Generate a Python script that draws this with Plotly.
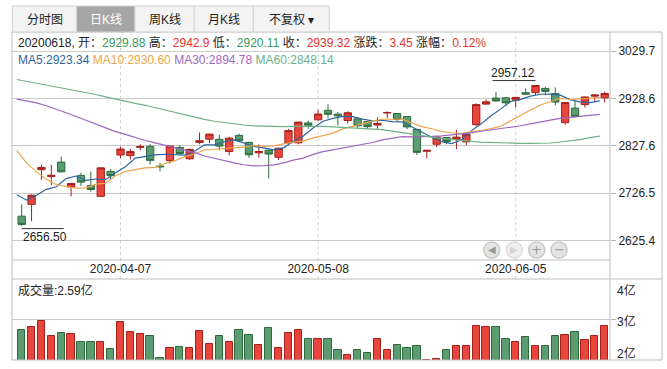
import plotly.graph_objects as go

# ---------------- data ----------------
dates = ["2020-03-23", "2020-03-24", "2020-03-25", "2020-03-26", "2020-03-27", "2020-03-30", "2020-03-31",
         "2020-04-01", "2020-04-02", "2020-04-03", "2020-04-07", "2020-04-08", "2020-04-09", "2020-04-10",
         "2020-04-13", "2020-04-14", "2020-04-15", "2020-04-16", "2020-04-17", "2020-04-20", "2020-04-21",
         "2020-04-22", "2020-04-23", "2020-04-24", "2020-04-27", "2020-04-28", "2020-04-29", "2020-04-30",
         "2020-05-06", "2020-05-07", "2020-05-08", "2020-05-11", "2020-05-12", "2020-05-13", "2020-05-14",
         "2020-05-15", "2020-05-18", "2020-05-19", "2020-05-20", "2020-05-21", "2020-05-22", "2020-05-25",
         "2020-05-26", "2020-05-27", "2020-05-28", "2020-05-29", "2020-06-01", "2020-06-02", "2020-06-03",
         "2020-06-04", "2020-06-05", "2020-06-08", "2020-06-09", "2020-06-10", "2020-06-11", "2020-06-12",
         "2020-06-15", "2020-06-16", "2020-06-17", "2020-06-18"]

opens = [2677.7, 2703.0, 2776.7, 2762.0, 2792.9, 2740.0, 2764.6, 2743.0, 2720.0, 2773.2,
         2808.0, 2806.9, 2824.4, 2826.4, 2784.5, 2796.0, 2824.0, 2800.0, 2834.9, 2841.9,
         2841.5, 2815.4, 2849.8, 2835.0, 2812.7, 2818.5, 2803.2, 2833.9, 2834.0, 2876.4,
         2883.2, 2903.3, 2895.2, 2881.6, 2885.2, 2879.1, 2872.0, 2897.5, 2896.5, 2890.1,
         2862.5, 2816.0, 2831.0, 2845.3, 2841.3, 2836.0, 2872.8, 2916.5, 2929.5, 2930.0,
         2925.0, 2940.8, 2941.0, 2950.0, 2938.9, 2877.1, 2908.0, 2915.5, 2933.5, 2929.88]

highs = [2703.0, 2724.0, 2787.5, 2787.0, 2805.0, 2748.5, 2770.0, 2773.0, 2781.5, 2778.0,
         2825.7, 2821.0, 2831.0, 2831.0, 2791.0, 2828.5, 2829.0, 2821.5, 2856.0, 2854.0,
         2851.0, 2847.0, 2853.5, 2836.5, 2831.0, 2819.5, 2823.5, 2863.5, 2879.0, 2881.5,
         2904.5, 2916.0, 2899.5, 2901.0, 2886.0, 2880.0, 2888.5, 2901.0, 2897.0, 2891.0,
         2864.0, 2819.0, 2847.5, 2846.5, 2861.5, 2853.5, 2918.0, 2926.5, 2942.5, 2931.5,
         2931.5, 2950.0, 2957.12, 2953.0, 2952.0, 2921.0, 2923.0, 2932.5, 2937.5, 2942.9]

lows = [2656.50, 2667.0, 2755.0, 2744.0, 2771.0, 2720.0, 2742.0, 2730.0, 2718.5, 2755.0,
        2801.5, 2798.5, 2818.0, 2788.0, 2773.0, 2790.0, 2808.5, 2797.0, 2831.0, 2833.0,
        2818.0, 2807.5, 2837.5, 2802.0, 2802.5, 2758.0, 2797.0, 2831.0, 2831.0, 2864.0,
        2880.5, 2886.0, 2871.0, 2875.0, 2866.0, 2863.5, 2864.0, 2886.5, 2879.0, 2863.5,
        2808.0, 2801.0, 2825.0, 2831.0, 2820.5, 2829.0, 2869.5, 2915.0, 2921.0, 2914.0,
        2909.0, 2935.5, 2936.0, 2935.5, 2914.0, 2872.5, 2889.0, 2909.0, 2921.0, 2920.11]

closes = [2660.17, 2722.44, 2781.59, 2764.91, 2772.20, 2747.21, 2750.30, 2734.52, 2780.64, 2763.99,
          2820.76, 2815.37, 2825.90, 2796.63, 2783.05, 2827.28, 2811.17, 2819.94, 2838.49, 2852.55,
          2827.01, 2843.98, 2838.50, 2808.53, 2815.49, 2810.02, 2822.44, 2860.08, 2878.14, 2871.52,
          2895.34, 2894.80, 2891.56, 2898.05, 2870.34, 2868.46, 2875.42, 2898.58, 2883.74, 2867.92,
          2813.77, 2817.97, 2846.55, 2836.80, 2846.22, 2852.35, 2915.43, 2921.40, 2923.37, 2919.25,
          2930.80, 2937.77, 2956.11, 2943.75, 2920.90, 2919.74, 2890.03, 2931.75, 2935.87, 2939.32]

# volume, in 亿 (hundred-million lots)
volumes = [2.49, 2.56, 2.71, 2.34, 2.41, 2.39, 2.19, 2.19, 2.19, 2.02,
           2.69, 2.44, 2.39, 2.34, 1.80, 2.05, 2.07, 2.05, 2.47, 2.15,
           2.34, 2.19, 2.49, 2.37, 2.12, 2.54, 2.05, 2.42, 2.49, 2.27,
           2.27, 2.27, 2.00, 1.87, 2.00, 1.92, 2.27, 2.00, 2.12, 2.05,
           2.10, 1.76, 1.78, 2.00, 2.10, 2.10, 2.59, 2.56, 2.56, 2.27,
           2.19, 2.32, 2.10, 2.10, 2.34, 2.37, 2.44, 2.24, 2.34, 2.59]

ma5 = [2723.26, 2711.82, 2722.39, 2734.95, 2740.26, 2757.67, 2763.24, 2753.83, 2756.97, 2755.33,
       2770.04, 2783.06, 2801.33, 2804.53, 2808.34, 2809.65, 2808.81, 2807.61, 2815.99, 2829.89,
       2829.83, 2836.39, 2840.11, 2834.11, 2826.70, 2823.30, 2819.00, 2823.31, 2837.23, 2848.44,
       2865.50, 2879.98, 2886.27, 2890.25, 2890.02, 2884.64, 2880.77, 2882.17, 2879.31, 2878.82,
       2867.89, 2856.40, 2845.99, 2836.60, 2832.26, 2839.98, 2859.47, 2874.44, 2891.75, 2906.36,
       2922.05, 2926.52, 2933.46, 2937.54, 2937.87, 2935.65, 2926.11, 2921.23, 2919.66, 2923.34]

ma10 = [2818.18, 2790.75, 2772.05, 2756.19, 2744.67, 2740.47, 2737.53, 2738.11, 2745.96, 2747.80,
        2763.86, 2773.15, 2777.58, 2780.75, 2781.84, 2789.84, 2795.93, 2804.47, 2810.26, 2819.11,
        2819.74, 2822.60, 2823.86, 2825.05, 2828.29, 2826.57, 2827.70, 2831.71, 2835.67, 2837.57,
        2844.40, 2849.49, 2854.79, 2863.74, 2869.23, 2875.07, 2880.37, 2884.22, 2884.78, 2884.42,
        2876.26, 2868.58, 2864.08, 2857.96, 2855.54, 2853.93, 2857.93, 2860.22, 2864.18, 2869.31,
        2881.01, 2892.99, 2903.95, 2914.65, 2922.11, 2928.85, 2926.31, 2927.35, 2928.60, 2930.60]

ma30 = [2927.0, 2923.5, 2919.0, 2913.0, 2906.0, 2898.0, 2890.0, 2882.0, 2874.0, 2866.0,
        2858.0, 2852.0, 2845.0, 2839.0, 2834.0, 2829.0, 2824.0, 2819.0, 2813.0, 2806.0,
        2800.59, 2795.50, 2791.16, 2787.33, 2784.93, 2785.63, 2787.05, 2791.43, 2797.30, 2801.49,
        2809.33, 2815.08, 2818.74, 2823.18, 2826.45, 2830.50, 2834.67, 2840.13, 2843.57, 2847.04,
        2846.80, 2846.89, 2847.58, 2848.92, 2851.02, 2851.86, 2855.33, 2858.72, 2861.54, 2863.77,
        2867.23, 2870.35, 2874.27, 2878.78, 2882.30, 2885.95, 2888.21, 2890.59, 2892.52, 2894.78]

ma60 = [2969.0, 2965.0, 2961.0, 2957.5, 2954.0, 2950.0, 2946.0, 2942.0, 2937.0, 2932.0,
        2927.0, 2922.0, 2918.0, 2914.0, 2909.0, 2903.0, 2898.0, 2893.0, 2888.0, 2884.0,
        2880.0, 2877.0, 2874.0, 2872.0, 2870.0, 2869.0, 2868.5, 2868.5, 2869.0, 2869.5,
        2869.5, 2869.0, 2868.0, 2867.0, 2866.5, 2865.5, 2864.0, 2862.0, 2859.0, 2855.5,
        2852.0, 2849.0, 2846.0, 2843.5, 2841.0, 2839.0, 2837.0, 2835.5, 2834.5, 2834.0,
        2833.91, 2832.93, 2832.72, 2833.06, 2833.61, 2835.79, 2837.63, 2841.01, 2844.91, 2848.14]

price_ticks = [2625.4, 2726.5, 2827.6, 2928.6, 3029.7]
date_ticks = ["2020-04-07", "2020-05-08", "2020-06-05"]
vol_ticks = [3.75, 2.75, 1.75]
vol_tick_labels = ["4亿", "3亿", "2亿"]
tab_labels = ["分时图", "日K线", "周K线", "月K线", "不复权 ▾"]
selected_tab = "日K线"

# ---------------- styling ----------------
W, H = 667, 369
PL, PR, PT, PB = 12, 610, 32, 360
FONT = "Liberation Sans, Arial, Noto Sans CJK SC, sans-serif"
TXT = "#222222"
RED_FILL, RED_LINE = "#e8453c", "#a3201b"
GRN_FILL, GRN_LINE = "#5c9c70", "#2c6c3c"
RED_TXT, GRN_TXT = "#e8362d", "#3b9a5c"
MA_COLORS = ["#2b65a1", "#eda54a", "#9d68bf", "#6cb189"]
GRID = "#cacaca"
BORDER = "#bdbdbd"


def px(x):
    return (x - PL) / (PR - PL)


def py(y):
    return (PB - y) / (PB - PT)


n = len(dates)
idx = list(range(n))
ma_x = [i - 0.5 for i in idx]
up = [c >= o for o, c in zip(opens, closes)]
xr = [-0.98, 59.54]

fig = go.Figure()

fig.add_trace(go.Candlestick(
    x=idx, open=opens, high=highs, low=lows, close=closes,
    increasing=dict(fillcolor=RED_FILL, line=dict(color=RED_LINE, width=1)),
    decreasing=dict(fillcolor=GRN_FILL, line=dict(color=GRN_LINE, width=1)),
    whiskerwidth=0, hoverinfo="skip", showlegend=False, xaxis="x", yaxis="y"))

for name, vals, col in zip(["MA5", "MA10", "MA30", "MA60"], [ma5, ma10, ma30, ma60], MA_COLORS):
    fig.add_trace(go.Scatter(x=ma_x, y=vals, mode="lines", name=name,
                             line=dict(color=col, width=1.2), hoverinfo="skip",
                             showlegend=False, xaxis="x", yaxis="y"))

fig.add_trace(go.Bar(
    x=idx, y=volumes, width=0.74, xaxis="x2", yaxis="y2",
    marker=dict(color=[RED_FILL if u else GRN_FILL for u in up],
                line=dict(color=[RED_LINE if u else GRN_LINE for u in up], width=1)),
    hoverinfo="skip", showlegend=False))

shapes = []
annotations = []

# frame lines
shapes.append(dict(type="rect", xref="paper", yref="paper", x0=0, x1=px(662), y0=0, y1=1,
                   line=dict(color=BORDER, width=1), layer="above"))
shapes.append(dict(type="line", xref="paper", yref="paper", x0=1, x1=1, y0=0, y1=1,
                   line=dict(color=BORDER, width=1)))
shapes.append(dict(type="line", xref="paper", yref="paper", x0=0, x1=1, y0=py(260), y1=py(260),
                   line=dict(color=BORDER, width=1)))
shapes.append(dict(type="line", xref="paper", yref="paper", x0=0, x1=px(662), y0=py(279), y1=py(279),
                   line=dict(color=BORDER, width=1)))

# dashed date guides
for d in date_ticks:
    xi = dates.index(d)
    shapes.append(dict(type="line", xref="x", yref="paper", x0=xi, x1=xi, y0=py(279), y1=1,
                       line=dict(color="#d2d2d2", width=1, dash="3px,3px"), layer="below"))

# tabs
tab_edges = [12.3, 76.7, 135, 194.3, 253.3, 329.3]
for i, lab in enumerate(tab_labels):
    sel = lab == selected_tab
    shapes.append(dict(type="rect", xref="paper", yref="paper",
                       x0=px(tab_edges[i]), x1=px(tab_edges[i + 1]), y0=py(32), y1=py(6),
                       fillcolor="#a6a6a6" if sel else "#f3f3f3",
                       line=dict(color="#d3d3d3", width=1)))
    annotations.append(dict(xref="paper", yref="paper",
                            x=px((tab_edges[i] + tab_edges[i + 1]) / 2), y=py(19.5),
                            text=lab, showarrow=False, xanchor="center", yanchor="middle",
                            font=dict(size=12, color="#ffffff" if sel else TXT, family=FONT)))


def fmt(v):
    return f"{v:.2f}".rstrip("0").rstrip(".")


def colored(v, ref):
    col = RED_TXT if v >= ref else GRN_TXT
    return f"<span style='color:{col}'>{fmt(v)}</span>"


prev = closes[-2]
chg = closes[-1] - prev
pct = chg / prev * 100
info = (f"{dates[-1].replace('-', '')}, 开：{colored(opens[-1], prev)} 高：{colored(highs[-1], prev)} "
        f"低：{colored(lows[-1], prev)} 收：{colored(closes[-1], prev)} "
        f"涨跌：<span style='color:{RED_TXT}'>{chg:.2f}</span> "
        f"涨幅：<span style='color:{RED_TXT}'>{pct:.2f}%</span>")
annotations.append(dict(xref="paper", yref="paper", x=px(16), y=py(42), text=info, showarrow=False,
                        xanchor="left", yanchor="middle", font=dict(size=12, color=TXT, family=FONT)))

ma_text = " ".join(f"<span style='color:{c}'>{nm}:{v[-1]:.2f}</span>"
                   for nm, v, c in zip(["MA5", "MA10", "MA30", "MA60"], [ma5, ma10, ma30, ma60], MA_COLORS))
annotations.append(dict(xref="paper", yref="paper", x=px(16), y=py(60), text=ma_text, showarrow=False,
                        xanchor="left", yanchor="middle", font=dict(size=12, family=FONT)))

annotations.append(dict(xref="paper", yref="paper", x=px(16), y=py(290), text=f"成交量:{volumes[-1]:.2f}亿",
                        showarrow=False, xanchor="left", yanchor="middle",
                        font=dict(size=12, color=TXT, family=FONT)))

# volume axis labels
for v, lab, sh in zip(vol_ticks, vol_tick_labels, [-11, -2, 7]):
    annotations.append(dict(xref="paper", yref="y2", x=px(615), y=v, yshift=sh, text=lab,
                            showarrow=False, xanchor="left", yanchor="middle",
                            font=dict(size=12, color=TXT, family=FONT)))

# max / min labels
i_max = highs.index(max(highs))
i_min = lows.index(min(lows))
annotations.append(dict(xref="x", yref="y", x=i_max, y=highs[i_max], text=fmt(highs[i_max]),
                        showarrow=False, xanchor="right", yanchor="bottom", yshift=3, xshift=1,
                        font=dict(size=12, color=TXT, family=FONT)))
shapes.append(dict(type="line", xref="x", yref="y", xsizemode="pixel", ysizemode="pixel",
                   xanchor=i_max, yanchor=highs[i_max], x0=-43, x1=0, y0=4.5, y1=4.5,
                   line=dict(color="#333333", width=1)))
annotations.append(dict(xref="x", yref="y", x=i_min, y=lows[i_min], text=f"{lows[i_min]:.2f}",
                        showarrow=False, xanchor="left", yanchor="top", yshift=-2, xshift=-1,
                        font=dict(size=12, color=TXT, family=FONT)))
shapes.append(dict(type="line", xref="x", yref="y", xsizemode="pixel", ysizemode="pixel",
                   xanchor=i_min, yanchor=lows[i_min], x0=0, x1=42, y0=-2.5, y1=-2.5,
                   line=dict(color="#333333", width=1)))

# navigation buttons
nav = [("◀", 491.7, True), ("▶", 514.3, False), ("+", 536.7, True), ("−", 559.0, True)]
for glyph, cx, active in nav:
    shapes.append(dict(type="circle", xref="paper", yref="paper",
                       x0=px(cx - 8), x1=px(cx + 8), y0=py(258), y1=py(242),
                       fillcolor="#e4e4e4" if active else "#efefef",
                       line=dict(color="#c9c9c9" if active else "#dddddd", width=1.5)))
    annotations.append(dict(xref="paper", yref="paper", x=px(cx), y=py(250), text=glyph,
                            showarrow=False, xanchor="center", yanchor="middle",
                            font=dict(size=10 if glyph in "◀▶" else 13,
                                      color="#9a9a9a" if active else "#d4d4d4",
                                      family="DejaVu Sans, sans-serif")))

fig.update_layout(
    width=W, height=H,
    margin=dict(l=PL, r=W - PR, t=PT, b=H - PB, pad=0),
    paper_bgcolor="white", plot_bgcolor="white",
    font=dict(family=FONT, size=12, color=TXT),
    showlegend=False, hovermode=False,
    boxgap=0.26, boxgroupgap=0,
    bargap=0,
    xaxis=dict(domain=[0, 1], range=xr, anchor="y",
               tickvals=[dates.index(d) for d in date_ticks], ticktext=date_ticks,
               showgrid=False, zeroline=False, showline=False, ticks="",
               rangeslider=dict(visible=False), tickfont=dict(size=12, color=TXT)),
    xaxis2=dict(domain=[0, 1], range=xr, anchor="y2", matches="x",
                showticklabels=False, showgrid=False, zeroline=False, showline=False),
    yaxis=dict(domain=[py(260), 1], range=[2584.3, 3070.2], side="right",
               tickvals=price_ticks, ticktext=[f"{v:.1f}" for v in price_ticks],
               showgrid=True, gridcolor=GRID, gridwidth=1, ticks="outside", ticklen=5,
               tickcolor="#b5b5b5", zeroline=False, showline=False,
               tickfont=dict(size=12, color=TXT)),
    yaxis2=dict(domain=[0, py(279)], range=[1.75, 3.75], side="right",
                tickvals=[2.75], showticklabels=False, showgrid=True, gridcolor=GRID,
                ticks="outside", ticklen=5, tickcolor="#b5b5b5", zeroline=False, showline=False),
    shapes=shapes,
    annotations=annotations,
)

fig.write_html("out.html", config={"displayModeBar": False},
               post_script="document.body.style.margin='0';document.body.style.overflow='hidden';")
